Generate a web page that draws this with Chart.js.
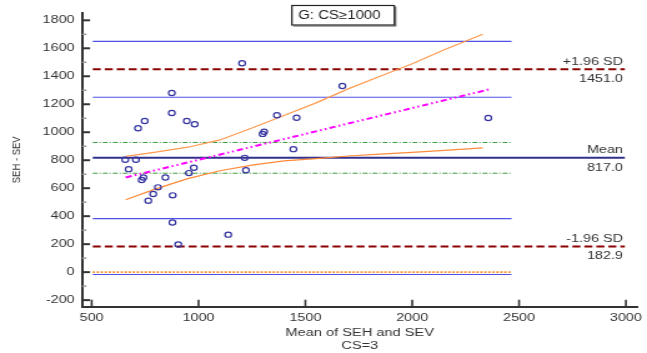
<!DOCTYPE html>
<html>
<head>
<meta charset="utf-8">
<script src="https://cdn.jsdelivr.net/npm/chart.js@4.4.1/dist/chart.umd.min.js"></script>
<style>
  html, body { margin: 0; padding: 0; background: #fff; }
  #plot { display: block; }
</style>
</head>
<body>
<!-- drawn narrow, shown wide -->
<canvas id="plot" width="518" height="353" style="width:647px;height:353px"></canvas>
<script>
// Bland-Altman: SEH vs SEV, group CS>=1000
const meanX = [1204, 875, 875, 748, 717, 945, 982, 1307, 1300, 1367, 1459, 1444, 1216, 1222, 1673, 2356,
               657, 707, 673, 742, 734, 845, 955, 978, 810, 788, 765, 879, 878, 905, 1139];
const diffY = [1493, 1280, 1137, 1080, 1028, 1080, 1057, 1003, 988, 1121, 1104, 879, 817, 729, 1331, 1102,
               803, 803, 736, 677, 659, 677, 708, 746, 606, 559, 510, 549, 355, 198, 268];

const meanDiff = 817.0;
const upperLoA = 1451.0;
const lowerLoA = 182.9;
const meanCI = [927, 707];
const loaCI = [1650, 1250, 382, -17];

// regression of differences on means, with its confidence band
const regX = [659, 2357];
const regY = [677, 1305];
const bandX = [659, 800, 950, 1100, 1250, 1400, 1550, 1700, 1850, 2000, 2150, 2330];
const bandUpper = [827, 858, 893, 945, 1030, 1120, 1210, 1310, 1400, 1490, 1590, 1700];
const bandLower = [517, 595, 668, 725, 765, 795, 812, 830, 843, 856, 870, 888];

const lineSpan = [505, 2465];
const limitSpan = [505, 2995];
const xTicks = [500, 1000, 1500, 2000, 2500, 3000];
const yTicks = [-200, 0, 200, 400, 600, 800, 1000, 1200, 1400, 1600, 1800];

const FONT = "'Liberation Sans', Arial, sans-serif";
Chart.defaults.font.family = FONT;
Chart.defaults.color = '#333';

function hline(value, span, color, width, dash) {
  return {
    data: [{x: span[0], y: value}, {x: span[1], y: value}],
    showLine: true, pointRadius: 0, borderColor: color, borderWidth: width,
    borderDash: dash || [], fill: false
  };
}

function curve(xs, ys, color, width, dash) {
  return {
    data: xs.map((v, i) => ({x: v, y: ys[i]})),
    showLine: true, pointRadius: 0, borderColor: color, borderWidth: width,
    borderDash: dash || [], fill: false, tension: 0
  };
}

const datasets = [
  {
    data: meanX.map((v, i) => ({x: v, y: diffY[i]})),
    pointRadius: 2.6, pointBorderWidth: 1.2,
    pointBorderColor: 'rgb(52,52,160)', pointBackgroundColor: 'transparent',
    showLine: false
  },
  curve(regX, regY, '#ff00ff', 2, [5, 2.5, 1.5, 2.5, 1.5, 2.5]),
  curve(bandX, bandUpper, '#ff9a50', 1.2),
  curve(bandX, bandLower, '#ff8a3a', 1.2),
  hline(meanDiff, limitSpan, 'rgb(48,48,140)', 2),
  hline(upperLoA, limitSpan, '#8b0000', 2, [6.4, 3.2]),
  hline(lowerLoA, limitSpan, '#8b0000', 2, [6.4, 3.2]),
  ...meanCI.map(v => hline(v, lineSpan, '#3c9a3c', 1, [4, 1.5, 1, 1.5])),
  ...loaCI.map(v => hline(v, lineSpan, 'rgb(80,80,230)', 1.2)),
  hline(0, lineSpan, '#ff7f00', 1.6, [1.6, 1.6])
];

// inward ticks, limit labels and the group box
const decorations = {
  id: 'decorations',
  afterDraw(chart) {
    const {ctx, chartArea: area, scales: {x, y}} = chart;
    ctx.save();
    ctx.strokeStyle = '#333';
    ctx.lineWidth = 2;
    yTicks.forEach(v => {
      const py = y.getPixelForValue(v);
      ctx.beginPath(); ctx.moveTo(area.left, py); ctx.lineTo(area.left + 6.4, py); ctx.stroke();
    });
    ctx.strokeStyle = '#999';
    ctx.lineWidth = 1.5;
    yTicks.forEach(v => {
      const py = y.getPixelForValue(v + 100);
      if (py < area.top) return;
      ctx.beginPath(); ctx.moveTo(area.left, py); ctx.lineTo(area.left + 3.5, py); ctx.stroke();
    });
    ctx.strokeStyle = '#333';
    ctx.lineWidth = 1.6;
    xTicks.forEach(v => {
      const px = x.getPixelForValue(v);
      ctx.beginPath(); ctx.moveTo(px, area.bottom); ctx.lineTo(px, area.bottom - 7); ctx.stroke();
    });

    ctx.fillStyle = '#333';
    ctx.font = '11.5px ' + FONT;
    ctx.textAlign = 'right';
    ctx.textBaseline = 'middle';
    const rx = x.getPixelForValue(limitSpan[1]) - 1.5;
    [[upperLoA, '+1.96 SD'], [meanDiff, 'Mean'], [lowerLoA, '-1.96 SD']].forEach(([v, name]) => {
      const py = y.getPixelForValue(v);
      ctx.fillText(name, rx, py - 7.7);
      ctx.fillText(v.toFixed(1), rx, py + 9.5);
    });

    const bx = area.left + 168, by = 5.5, bw = 82, bh = 19.5;
    ctx.fillStyle = '#fff';
    ctx.fillRect(bx, by, bw, bh);
    ctx.strokeStyle = '#222';
    ctx.lineWidth = 1.2;
    ctx.strokeRect(bx, by, bw, bh);
    ctx.beginPath();
    ctx.moveTo(bx + bw + 1, by + 1); ctx.lineTo(bx + bw + 1, by + bh + 1); ctx.lineTo(bx + 1, by + bh + 1);
    ctx.strokeStyle = '#555';
    ctx.stroke();
    ctx.fillStyle = '#222';
    ctx.font = '12px ' + FONT;
    ctx.textAlign = 'left';
    ctx.fillText('G: CS\u22651000', bx + 5, by + bh / 2 + 0.5);
    ctx.restore();
  }
};

new Chart(document.getElementById('plot'), {
  type: 'scatter',
  data: {datasets},
  options: {
    responsive: false,
    devicePixelRatio: 1,
    animation: false,
    layout: {padding: {left: 0, right: 1.6, top: 10, bottom: 0}},
    plugins: {legend: {display: false}, tooltip: {enabled: false}},
    scales: {
      x: {
        type: 'linear', min: 455, max: 3054,
        afterFit: s => { s.height = 46.3; },
        afterBuildTicks: s => { s.ticks = xTicks.map(v => ({value: v})); },
        grid: {display: false, drawTicks: false},
        border: {display: true, color: '#333', width: 2},
        ticks: {padding: 4, font: {size: 11.5}, color: '#333', maxRotation: 0, callback: v => String(v)},
        title: {
          display: true, text: ['Mean of SEH and SEV', 'CS=3'],
          font: {size: 11.7, lineHeight: '13.5px'}, color: '#333', padding: {top: 0, bottom: 0}
        }
      },
      y: {
        type: 'linear', min: -247, max: 1853,
        afterFit: s => { s.width = 65.7; },
        afterBuildTicks: s => { s.ticks = yTicks.map(v => ({value: v})); },
        grid: {display: false, drawTicks: false},
        border: {display: true, color: '#333', width: 2},
        ticks: {padding: 6, font: {size: 11.5}, color: '#333', callback: v => String(v)},
        title: {
          display: true, text: 'SEH - SEV',
          font: {size: 9.5}, color: '#333', padding: {top: 7.2, bottom: 0}
        }
      }
    }
  },
  plugins: [decorations]
});
</script>
</body>
</html>
